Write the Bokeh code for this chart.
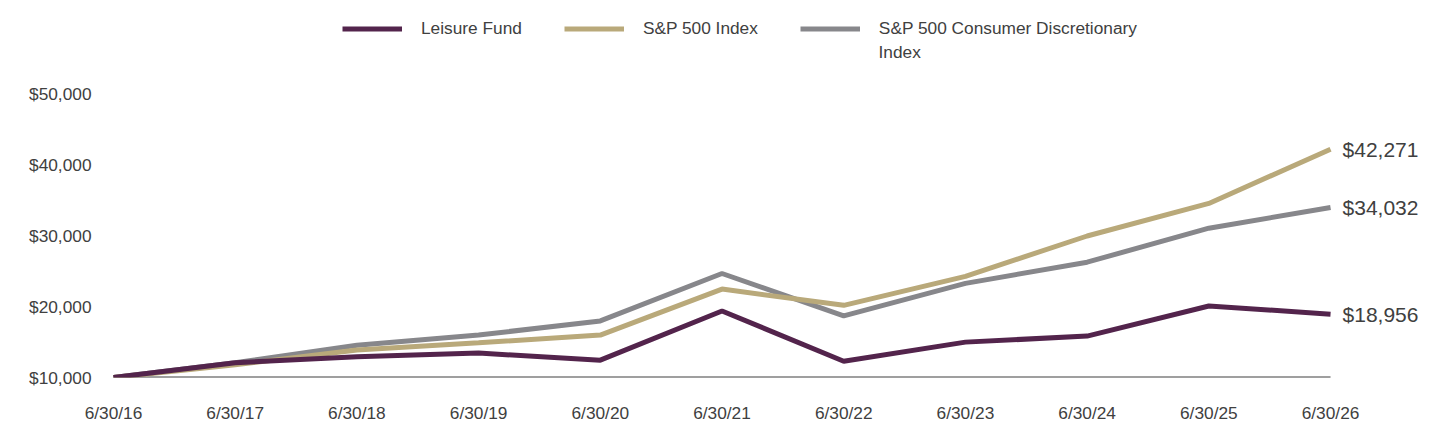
from bokeh.plotting import figure
from bokeh.models import Range1d, FixedTicker, Legend, LegendItem, ColumnDataSource, Label
from bokeh.core.properties import value
from bokeh.embed import file_html
from bokeh.resources import INLINE

dates = ["6/30/16", "6/30/17", "6/30/18", "6/30/19", "6/30/20", "6/30/21",
         "6/30/22", "6/30/23", "6/30/24", "6/30/25", "6/30/26"]
leisure = [10000, 12080, 12950, 13450, 12450, 19400, 12300, 15000, 15850, 20100, 18956]
sp500 = [10000, 11800, 13900, 14900, 16000, 22500, 20200, 24300, 30000, 34600, 42271]
cons_disc = [10000, 12100, 14550, 16000, 18000, 24700, 18700, 23300, 26300, 31100, 34032]
y_ticks = [10000, 20000, 30000, 40000, 50000]
y_tick_labels = ["$10,000", "$20,000", "$30,000", "$40,000", "$50,000"]
series_names = ["Leisure Fund", "S&P 500 Index", "S&P 500 Consumer Discretionary", "Index"]

FONT = "Liberation Sans"
TXT = "#404040"
C_LEI = "#53244c"
C_SP = "#b9a97a"
C_CD = "#87878b"

xs = list(range(len(dates)))

p = figure(width=1424, height=428, output_backend="svg", toolbar_location=None,
           x_range=Range1d(-0.082, 10.772), y_range=Range1d(10000, 63286),
           min_border_left=103, min_border_right=0, min_border_top=0, min_border_bottom=51)
p.outline_line_color = None
p.grid.visible = False

# baseline
p.line([xs[0], xs[-1]], [y_ticks[0], y_ticks[0]], line_color=TXT, line_width=2)

r_cd = p.line(xs, cons_disc, line_color=C_CD, line_width=5)
r_sp = p.line(xs, sp500, line_color=C_SP, line_width=5)
r_lei = p.line(xs, leisure, line_color=C_LEI, line_width=5)

# end labels
ends = ColumnDataSource(dict(
    x=[xs[-1]] * 3,
    y=[leisure[-1], sp500[-1], cons_disc[-1]],
    t=["${:,}".format(v) for v in (leisure[-1], sp500[-1], cons_disc[-1])],
))
p.text(x="x", y="y", text="t", source=ends, x_offset=12, text_baseline="middle",
       text_align="left", text_font=value(FONT), text_font_size="21px", text_color=TXT)

# axes
p.xaxis.ticker = FixedTicker(ticks=xs)
p.xaxis.major_label_overrides = {i: d for i, d in enumerate(dates)}
p.yaxis.ticker = FixedTicker(ticks=y_ticks)
p.yaxis.major_label_overrides = {t: l for t, l in zip(y_ticks, y_tick_labels)}
for ax in (p.xaxis, p.yaxis):
    ax.axis_line_color = None
    ax.major_tick_line_color = None
    ax.minor_tick_line_color = None
    ax.major_tick_out = 0
    ax.major_tick_in = 0
    ax.major_label_text_font = FONT
    ax.major_label_text_font_size = "17.3px"
    ax.major_label_text_color = TXT
p.xaxis.major_label_standoff = 25
p.yaxis.major_label_standoff = 12

legend = Legend(items=[
    LegendItem(label=series_names[0], renderers=[r_lei]),
    LegendItem(label=series_names[1], renderers=[r_sp]),
    LegendItem(label=series_names[2], renderers=[r_cd]),
], orientation="horizontal", location=(239, 337.5))
legend.glyph_width = 60
legend.glyph_height = 23
legend.label_standoff = 19
legend.spacing = 42
legend.padding = 0
legend.margin = 0
legend.border_line_color = None
legend.background_fill_alpha = 0
legend.label_text_font = FONT
legend.label_text_font_size = "17.3px"
legend.label_text_color = TXT
legend.label_height = 23
p.add_layout(legend, "center")

# second line of the third legend label
p.add_layout(Label(x=775, y=326, x_units="screen", y_units="screen", text=series_names[3],
                   text_font=FONT, text_font_size="17.3px", text_color=TXT,
                   text_baseline="middle", text_align="left"))

open("out.html", "w").write(file_html(p, INLINE))
